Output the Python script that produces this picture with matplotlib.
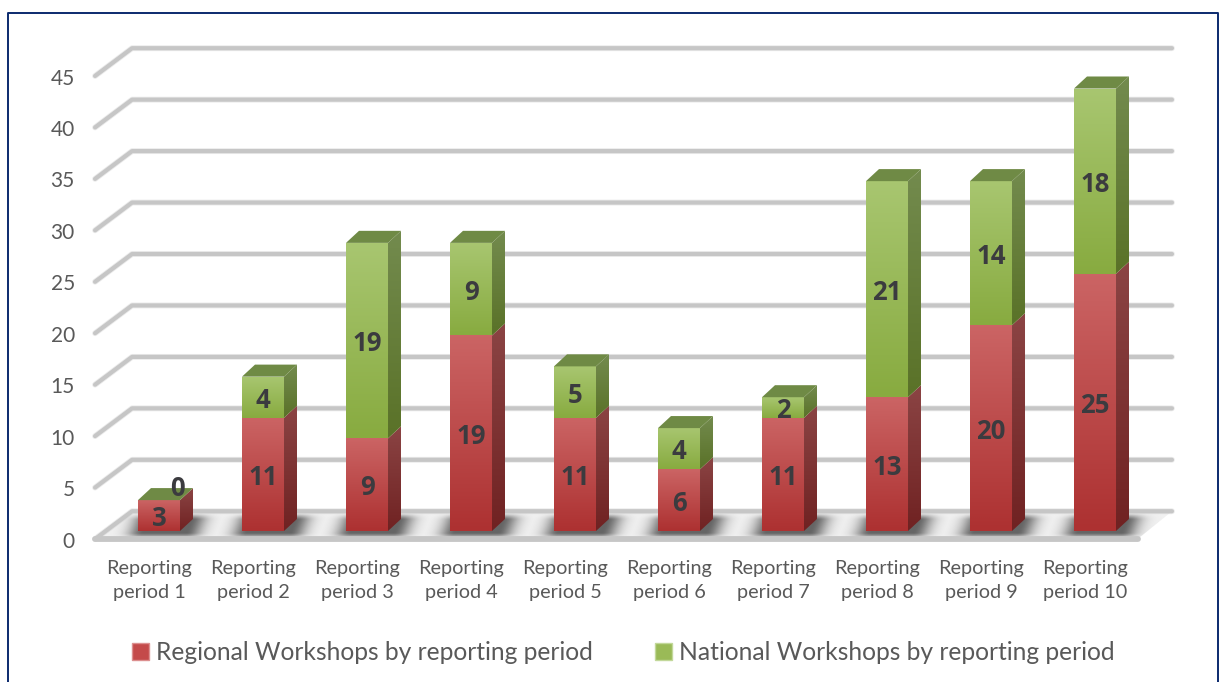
#!/usr/bin/env python3
"""Stacked pseudo-3D column chart of workshops by reporting period."""
import matplotlib
matplotlib.use("Agg")
import matplotlib.pyplot as plt
import numpy as np
from matplotlib.colors import LinearSegmentedColormap
from matplotlib.lines import Line2D
from matplotlib.patches import Patch, Polygon

PERIODS = [f"Reporting\nperiod {i}" for i in range(1, 11)]
REGIONAL = [3, 11, 9, 19, 11, 6, 11, 13, 20, 25]
NATIONAL = [0, 4, 19, 9, 5, 4, 2, 21, 14, 18]
Y_TICKS = [0, 5, 10, 15, 20, 25, 30, 35, 40, 45]
REGIONAL_LABEL = "Regional Workshops by reporting period"
NATIONAL_LABEL = "National Workshops by reporting period"

# pixel layout of the picture, used to set up the data limits
PX_X0, PX_PER_CAT = 159, 104
PX_Y0, PX_PER_UNIT = 531, 10.29

BAR_W = 0.404
BAR_DX, BAR_DY = 0.125, 1.17
GRID_LEFT, GRID_RIGHT, FLOOR_RIGHT = -0.615, 9.74, 9.41
GRID_DX, GRID_DY = 0.356, 2.7
FLOOR_Y = -0.78

TEXT = "#595959"
LABEL = "#3b3b3f"
GRID = "#c6c6c6"
RED_FRONT = ("#ad3131", "#cb6464")
RED_SIDE = ("#702222", "#8b4444")
GREEN_FRONT = ("#88ab40", "#a8c670")
GREEN_SIDE = ("#5a7228", "#738b4e")
GREEN_TOP = "#6f8a45"

plt.rcParams["font.family"] = ["Lato", "DejaVu Sans"]


def gradient_poly(ax, pts, colors, zorder):
    """Polygon filled by a vertical gradient, colors = (bottom, top)."""
    poly = Polygon(pts, closed=True, facecolor="none", edgecolor="none", zorder=zorder)
    ax.add_patch(poly)
    xs, ys = zip(*pts)
    cmap = LinearSegmentedColormap.from_list("g", colors)
    grad = np.linspace(1, 0, 64).reshape(-1, 1)
    img = ax.imshow(grad, cmap=cmap, vmin=0, vmax=1, aspect="auto", zorder=zorder,
                    extent=(min(xs), max(xs), min(ys), max(ys)), interpolation="bilinear")
    img.set_clip_path(poly)


def draw_segment(ax, x, v0, v1, front, side):
    left, right = x - BAR_W / 2, x + BAR_W / 2
    gradient_poly(ax, [(left, v0), (right, v0), (right, v1), (left, v1)], front, 4)
    gradient_poly(ax, [(right, v0), (right + BAR_DX, v0 + BAR_DY),
                       (right + BAR_DX, v1 + BAR_DY), (right, v1)], side, 4)


def draw_floor(ax):
    floor = Polygon([(GRID_LEFT, FLOOR_Y), (FLOOR_RIGHT, FLOOR_Y),
                     (GRID_RIGHT, FLOOR_Y + GRID_DY), (GRID_LEFT + GRID_DX, FLOOR_Y + GRID_DY)],
                    closed=True, facecolor="#f1f1f1", edgecolor="none", zorder=1)
    ax.add_patch(floor)
    # soft shadow pooled around each column base
    xg = np.linspace(GRID_LEFT, GRID_RIGHT, 1000)
    yg = np.linspace(FLOOR_Y, FLOOR_Y + GRID_DY, 40)
    xx, yy = np.meshgrid(xg, yg)
    depth = (yy - FLOOR_Y) / GRID_DY
    alpha = np.zeros_like(xx)
    for i in range(len(PERIODS)):
        dist = np.abs(xx - i - 0.1 * depth - 0.03) - BAR_W / 2
        alpha = np.maximum(alpha, np.exp(-(np.clip(dist, 0, None) / 0.15) ** 2))
    alpha *= 0.85 * np.clip(np.sin(np.pi * np.clip(depth * 1.05 + 0.02, 0, 1)) * 1.5, 0, 1)
    rgba = np.zeros(xx.shape + (4,))
    rgba[..., :3] = 0.3
    rgba[..., 3] = alpha
    img = ax.imshow(rgba, origin="lower", aspect="auto", zorder=1.5, interpolation="bilinear",
                    extent=(xg[0], xg[-1], yg[0], yg[-1]))
    img.set_clip_path(floor)


def draw_grid(ax):
    for v in Y_TICKS:
        y = v + FLOOR_Y
        xs = [GRID_LEFT, GRID_LEFT + GRID_DX, GRID_RIGHT]
        ys = [y, y + GRID_DY, y + GRID_DY]
        ax.plot(xs, ys, color=GRID, lw=4.2, alpha=0.35, solid_capstyle="round",
                solid_joinstyle="round", zorder=2)
        ax.plot(xs, ys, color=GRID, lw=3.0, solid_capstyle="round",
                solid_joinstyle="round", zorder=2)
    y = FLOOR_Y
    ax.plot([GRID_LEFT, FLOOR_RIGHT], [y, y], color=GRID, lw=4.2, solid_capstyle="round", zorder=2)


def main():
    fig = plt.figure(figsize=(12.2, 6.82), dpi=100, facecolor="white")
    ax = fig.add_axes([0, 0, 1, 1])
    ax.set_autoscale_on(False)
    ax.set_xlim(-PX_X0 / PX_PER_CAT, (1220 - PX_X0) / PX_PER_CAT)
    ax.set_ylim((PX_Y0 - 682) / PX_PER_UNIT, PX_Y0 / PX_PER_UNIT)
    ax.axis("off")

    draw_floor(ax)
    draw_grid(ax)

    label_font = dict(ha="center", va="center", fontsize=18.5, fontweight="bold",
                      family=["Open Sans", "DejaVu Sans"], color=LABEL, zorder=6)
    for i, (reg, nat) in enumerate(zip(REGIONAL, NATIONAL)):
        total = reg + nat
        draw_segment(ax, i, 0, reg, RED_FRONT, RED_SIDE)
        if nat:
            draw_segment(ax, i, reg, total, GREEN_FRONT, GREEN_SIDE)
        left, right = i - BAR_W / 2, i + BAR_W / 2
        ax.add_patch(Polygon([(left, total), (right, total), (right + BAR_DX, total + BAR_DY),
                              (left + BAR_DX, total + BAR_DY)], closed=True,
                             facecolor=GREEN_TOP, edgecolor="none", zorder=4))
        ax.text(i, reg / 2 - 0.3, str(reg), **label_font)
        if nat:
            ax.text(i, reg + nat / 2 - 0.3, str(nat), **label_font)
        else:
            # zero value label sits above the column, pushed to the right
            ax.text(i + 0.18, reg + 1.15, str(nat), **label_font)

    for v in Y_TICKS:
        ax.text(-0.81, v + FLOOR_Y - 0.25, str(v), ha="right", va="center", fontsize=15, color=TEXT)
    for i, label in enumerate(PERIODS):
        ax.text(i - 0.095, -4.8, label, ha="center", va="center", fontsize=14.3,
                color=TEXT, linespacing=1.5)

    handles = [Patch(facecolor="#c44a4a", edgecolor="#dc8f8f", label=REGIONAL_LABEL),
               Patch(facecolor="#9aba57", edgecolor="#c2d89a", label=NATIONAL_LABEL)]
    ax.legend(handles=handles, ncol=2, frameon=False, fontsize=17.75, labelcolor=TEXT,
              loc="center left", bbox_to_anchor=(0.1082, 0.043), handlelength=0.69,
              handleheight=0.69, handletextpad=0.27, columnspacing=2.55, borderpad=0, borderaxespad=0)

    # navy frame, open at the bottom of the picture
    frame_x = [8 / 1220, 8 / 1220, 1218 / 1220, 1218 / 1220]
    frame_y = [0, 1 - 13 / 682, 1 - 13 / 682, 0]
    fig.add_artist(Line2D(frame_x, frame_y, color="#0b2a6e", lw=1.4, transform=fig.transFigure))

    fig.savefig("out.png", dpi=100)
    plt.close(fig)


if __name__ == "__main__":
    main()
